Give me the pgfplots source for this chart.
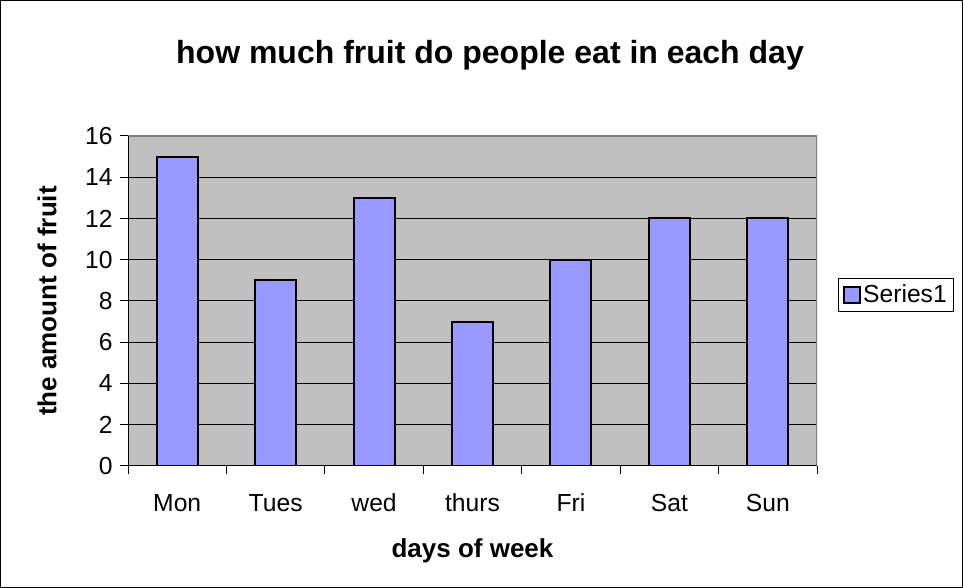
\documentclass[border=0pt]{standalone}
\usepackage{pgfplots}
\pgfplotsset{compat=1.18}
\usepackage{fontspec}
\setmainfont{Liberation Sans}
\definecolor{bargray}{HTML}{C0C0C0}
\definecolor{borderg}{HTML}{808080}
\definecolor{barblue}{HTML}{9999FF}
\begin{document}
\begin{tikzpicture}[x=0.75pt,y=0.75pt]
\draw[black,line width=0.75pt] (0.5,0.5) rectangle (962.5,587.5);
\path[use as bounding box] (0,0) rectangle (963,588);
\node[font=\bfseries\fontsize{24}{26}\selectfont] at (490,533) {how much fruit do people eat in each day};
\begin{axis}[
  at={(128pt*0.75,122pt*0.75)}, anchor=south west,
  scale only axis, width=516.75pt, height=247.5pt,
  xmin=-0.5, xmax=6.5, ymin=0, ymax=16,
  ybar, bar width=30.75pt,
  xtick={0,...,6}, xticklabels={Mon,Tues,wed,thurs,Fri,Sat,Sun},
  minor xtick={-0.5,0.5,...,6.5},
  major x tick style={draw=none},
  minor tick length=6pt,
  ytick={0,2,...,16}, major tick length=6pt,
  tick align=outside, xtick pos=bottom, ytick pos=left,
  tick style={black, line width=0.75pt},
  ymajorgrids, grid style={black, line width=0.75pt},
  axis line style={draw=none},
  axis background/.style={fill=bargray},
  ticklabel style={font=\fontsize{18.5}{20}\selectfont},
  /pgf/number format/assume math mode=true,
  xticklabel style={anchor=base, yshift=-28.5pt},
  yticklabel style={xshift=-2pt},
  xlabel={\bfseries days of week}, ylabel={\bfseries the amount of fruit},
  label style={font=\bfseries\fontsize{19.5}{21}\selectfont},
  xlabel style={at={(rel axis cs:0.5,0)}, anchor=center, yshift=-63.5pt},
  ylabel style={at={(rel axis cs:0,0.5)}, anchor=center, rotate=0, yshift=60.75pt},
  legend style={at={(1,0.5)}, anchor=west, xshift=15.75pt, yshift=4.5pt,
    draw=black, line width=0.75pt, font=\fontsize{18.5}{20}\selectfont,
    inner xsep=3pt, inner ysep=3pt},
  legend image code/.code={\draw[#1] (0pt,-6pt) rectangle (12pt,6pt);},
]
\addplot[fill=barblue, draw=black, line width=1.5pt] coordinates {(0,15) (1,9) (2,13) (3,7) (4,10) (5,12) (6,12)};
\addlegendentry{Series1}
\draw[borderg, line width=1.5pt] (rel axis cs:0,1) -- (rel axis cs:1,1) -- (rel axis cs:1,0);
\draw[black, line width=1pt] (rel axis cs:0,1) -- (rel axis cs:0,0) -- (rel axis cs:1,0);
\end{axis}
\end{tikzpicture}
\end{document}
